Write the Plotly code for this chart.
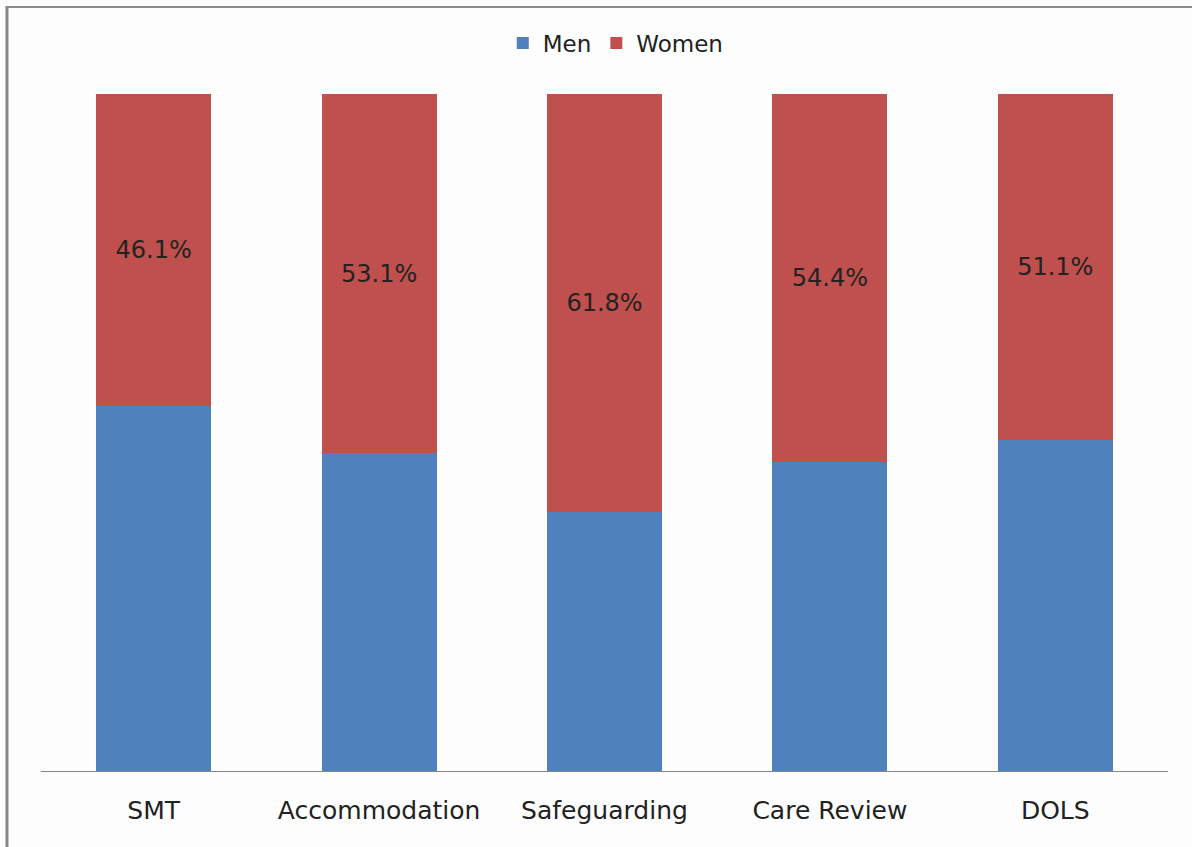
import plotly.graph_objects as go

categories = ["SMT", "Accommodation", "Safeguarding", "Care Review", "DOLS"]
women_pct = [46.1, 53.1, 61.8, 54.4, 51.1]
men_pct = [53.9, 46.9, 38.2, 45.6, 48.9]
women_labels = ["46.1%", "53.1%", "61.8%", "54.4%", "51.1%"]

FONT = "DejaVu Sans"
TXT = "#222222"

fig = go.Figure()
fig.add_trace(go.Bar(
    name="Men", x=categories, y=men_pct,
    marker=dict(color="#4F81BD", line=dict(width=0)),
    hoverinfo="skip",
))
fig.add_trace(go.Bar(
    name="Women", x=categories, y=women_pct,
    marker=dict(color="#C0504D", line=dict(width=0)),
    text=women_labels, textposition="inside", insidetextanchor="middle",
    textfont=dict(family=FONT, size=24, color=TXT),
    textangle=0, hoverinfo="skip",
))

fig.update_layout(
    barmode="stack",
    bargap=0.49,
    width=1192, height=847,
    margin=dict(l=41, r=24, t=94, b=76, autoexpand=False),
    paper_bgcolor="#FDFDFD",
    plot_bgcolor="#FDFDFD",
    font=dict(family=FONT, size=22, color=TXT),
    showlegend=True,
    legend=dict(
        orientation="h", traceorder="normal",
        x=0.51, xanchor="center", xref="paper",
        y=1 - 43 / 847, yanchor="middle", yref="container",
        font=dict(family=FONT, size=23, color=TXT),
        bgcolor="rgba(0,0,0,0)",
    ),
    xaxis=dict(
        showline=True, linecolor="#868686", linewidth=1,
        ticks="", tickfont=dict(family=FONT, size=25, color=TXT),
        showgrid=False, ticklabelstandoff=17,
    ),
    yaxis=dict(
        range=[0, 100], visible=False, showgrid=False, zeroline=False,
    ),
    shapes=[
        dict(type="line", xref="paper", yref="paper",
             x0=-0.0302, x1=-0.0302, y0=-0.2, y1=1.13,
             line=dict(color="#878787", width=3)),
        dict(type="line", xref="paper", yref="paper",
             x0=-0.0302, x1=1.05, y0=1.1285, y1=1.1285,
             line=dict(color="#8a8a8a", width=2)),
    ],
)

fig.write_html("out.html", config={"displayModeBar": False},
               post_script="document.body.style.margin='0';")
